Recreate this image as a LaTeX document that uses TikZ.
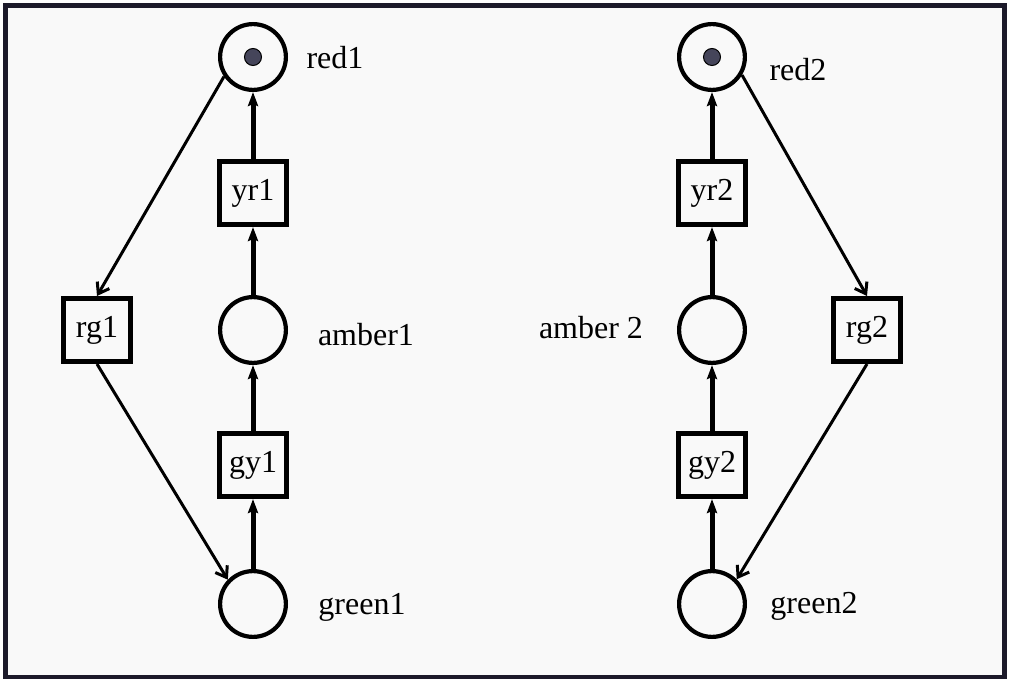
\documentclass[tikz,border=0pt]{standalone}
\usepackage{fontspec}
\setmainfont{Liberation Serif}
\usetikzlibrary{arrows.meta}
\definecolor{framecol}{HTML}{1C1A2A}
\definecolor{paper}{HTML}{F9F9F9}
\definecolor{tokencol}{HTML}{45455A}
\begin{document}
\begin{tikzpicture}[x=1pt,y=-1pt,
  place/.style={circle,draw,line width=4.2pt,minimum size=65.8pt,inner sep=0pt},
  trans/.style={rectangle,draw,fill=paper,line width=5.2pt,minimum width=66.8pt,
    minimum height=62.8pt,inner sep=0pt,font=\fontsize{32}{36}\selectfont},
  lbl/.style={inner sep=0pt,font=\fontsize{32}{36}\selectfont},
  token/.style={circle,fill=tokencol,draw=black,line width=1pt,minimum size=17pt,inner sep=0pt},
  flowv/.style={line width=5pt,-{Stealth[length=14pt,width=10pt,inset=2pt]}},
  flowd/.style={line width=3pt,-{Straight Barb[length=10pt,width=14pt,line width=3pt]}}]
  % page and frame
  \fill[white] (0,0) rectangle (1010,684);
  \fill[paper] (5,5) rectangle (1004,677);
  \draw[framecol,line width=4.8pt] (5.4,5.4) rectangle (1004.4,677);

  % left net
  \node[place] (red1)   at (253,57)  {};
  \node[token] (tok1)   at (253,57)  {};
  \node[trans] (yr1)    at (253,193) {yr1};
  \node[place] (amber1) at (253,330) {};
  \node[trans] (gy1)    at (253,465) {gy1};
  \node[place] (green1) at (253,604) {};
  \node[trans] (rg1)    at (97,330)  {rg1};

  \node[lbl] (lred1)   at (335,58)  {red1};
  \node[lbl] (lamber1) at (366,335) {amber1};
  \node[lbl] (lgreen1) at (362,607) {green1};

  \draw[flowv] (green1) -- (gy1);
  \draw[flowv] (gy1) -- (amber1);
  \draw[flowv] (amber1) -- (yr1);
  \draw[flowv] (yr1) -- (red1);
  \draw[flowd] (red1.214) -- (rg1.north);
  \draw[flowd] (rg1.south) -- (green1.136);

  % right net
  \node[place] (red2)   at (712,57)  {};
  \node[token] (tok2)   at (712,57)  {};
  \node[trans] (yr2)    at (712,193) {yr2};
  \node[place] (amber2) at (712,330) {};
  \node[trans] (gy2)    at (712,465) {gy2};
  \node[place] (green2) at (712,604) {};
  \node[trans] (rg2)    at (867,330) {rg2};

  \node[lbl] (lred2)   at (798,70)  {red2};
  \node[lbl] (lamber2) at (591,328) {amber 2};
  \node[lbl] (lgreen2) at (814,606) {green2};

  \draw[flowv] (green2) -- (gy2);
  \draw[flowv] (gy2) -- (amber2);
  \draw[flowv] (amber2) -- (yr2);
  \draw[flowv] (yr2) -- (red2);
  \draw[flowd] (red2.-31) -- (rg2.north);
  \draw[flowd] (rg2.south) -- (green2.45);
\end{tikzpicture}
\end{document}
